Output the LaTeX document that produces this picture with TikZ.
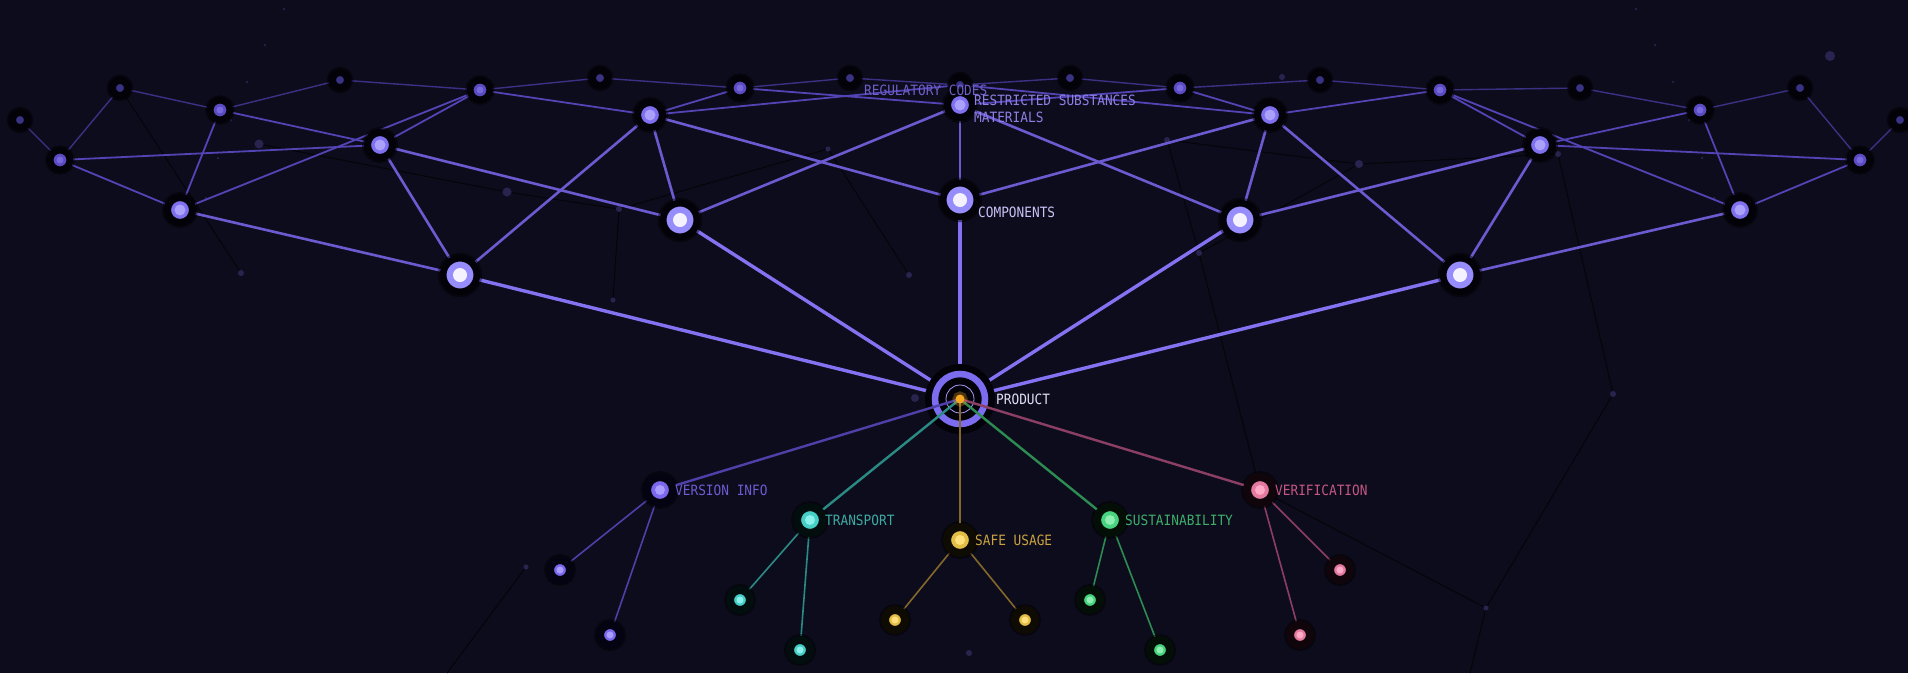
\documentclass[tikz,border=0pt]{standalone}
\usepackage{fontspec}
\newfontfamily\labelfont[FakeStretch=0.9]{DejaVu Sans Mono}

\definecolor{bgcol}{HTML}{0D0C1C}
\definecolor{halocol}{HTML}{030208}
\definecolor{dimcol}{HTML}{050409}
\definecolor{speckcol}{HTML}{29244F}
\definecolor{onedisc}{HTML}{978CFB}
\definecolor{onecore}{HTML}{F5F2FF}
\definecolor{twodisc}{HTML}{7F70F0}
\definecolor{twocore}{HTML}{ABA1FA}
\definecolor{threedisc}{HTML}{5A4CC0}
\definecolor{threecore}{HTML}{7667DC}
\definecolor{fourdisc}{HTML}{3A3283}
\definecolor{prodring}{HTML}{7B6CF0}
\definecolor{prodthin}{HTML}{A99CFF}
\definecolor{prodgold}{HTML}{F5A623}
\definecolor{trunkcol}{HTML}{8373F3}
\definecolor{branchcol}{HTML}{6A5BD0}
\definecolor{twigcol}{HTML}{5244B4}
\definecolor{finecol}{HTML}{3A3185}
% categories: halo / disc / core / link / text
\definecolor{verhalo}{HTML}{040312}
\definecolor{verdisc}{HTML}{7B68EE}
\definecolor{vercore}{HTML}{A99CFF}
\definecolor{verlink}{HTML}{4E40A8}
\definecolor{vertext}{HTML}{6C5CD2}
\definecolor{trnhalo}{HTML}{020E0D}
\definecolor{trndisc}{HTML}{45CFC6}
\definecolor{trncore}{HTML}{8AF0EA}
\definecolor{trnlink}{HTML}{2A8A84}
\definecolor{trntext}{HTML}{3DAAA3}
\definecolor{safhalo}{HTML}{0E0B03}
\definecolor{safdisc}{HTML}{E3BD45}
\definecolor{safcore}{HTML}{FFE07A}
\definecolor{saflink}{HTML}{84672A}
\definecolor{saftext}{HTML}{C9A13F}
\definecolor{sushalo}{HTML}{030E06}
\definecolor{susdisc}{HTML}{47D47E}
\definecolor{suscore}{HTML}{8EEDB0}
\definecolor{suslink}{HTML}{2C8C52}
\definecolor{sustext}{HTML}{3DAE69}
\definecolor{vrfhalo}{HTML}{10050B}
\definecolor{vrfdisc}{HTML}{E47A9F}
\definecolor{vrfcore}{HTML}{FFA9C6}
\definecolor{vrflink}{HTML}{8C3F65}
\definecolor{vrftext}{HTML}{C45784}
\definecolor{prodtext}{HTML}{E2DEF7}
\definecolor{comptext}{HTML}{C9C2F6}
\definecolor{mattext}{HTML}{8C80E2}
\definecolor{regtext}{HTML}{6D5FC6}

\pgfdeclarelayer{back}
\pgfdeclarelayer{links}
\pgfsetlayers{back,links,main}

\tikzset{
	glow/.style={preaction={draw=black, draw opacity=0.45, line width=#1}},
	lone/.style={circle, inner sep=0pt, minimum size=33.5pt, line width=6.5pt, draw=halocol, fill=onedisc, glow=11pt,
		path picture={\fill[onecore] (path picture bounding box.center) circle (7pt);}},
	ltwo/.style={circle, inner sep=0pt, minimum size=25pt, line width=7pt, draw=halocol, fill=twodisc, glow=11pt,
		path picture={\fill[twocore] (path picture bounding box.center) circle (5.5pt);}},
	lthree/.style={circle, inner sep=0pt, minimum size=19.5pt, line width=6.5pt, draw=halocol, fill=threedisc, glow=10pt,
		path picture={\fill[threecore] (path picture bounding box.center) circle (3.5pt);}},
	lfour/.style={circle, inner sep=0pt, minimum size=15.5pt, line width=7.5pt, draw=halocol, fill=fourdisc, glow=11pt},
	prodnode/.style={circle, inner sep=0pt, minimum size=50pt, line width=6.5pt, draw=prodring, fill=halocol,
		preaction={draw=halocol, line width=20pt},
		path picture={\draw[prodthin, line width=0.8pt] (path picture bounding box.center) circle (14pt);}},
	prodcore/.style={circle, inner sep=0pt, minimum size=9pt, fill=prodgold,
		preaction={draw=prodgold, draw opacity=0.3, line width=6pt}},
	catnode/.style n args={3}{circle, inner sep=0pt, minimum size=26pt, line width=8pt, draw=#1, fill=#2, glow=12pt,
		path picture={\fill[#3] (path picture bounding box.center) circle (5pt);}},
	leafnode/.style n args={3}{circle, inner sep=0pt, minimum size=20pt, line width=8pt, draw=#1, fill=#2, glow=12pt,
		path picture={\fill[#3] (path picture bounding box.center) circle (3.5pt);}},
	speck/.style={circle, inner sep=0pt, fill=speckcol, minimum size=#1},
	speck/.default=6pt,
	trunk/.style={trunkcol, line width=3.4pt},
	branch/.style={branchcol, line width=2.6pt},
	twig/.style={twigcol, line width=1.8pt},
	fineline/.style={finecol, line width=1.4pt},
	dimlink/.style={dimcol, line width=1pt},
	catlink/.style={line width=2.4pt},
	leaflink/.style={line width=1.6pt},
	lbl/.style={font=\labelfont\fontsize{14.2}{16}\selectfont, inner sep=0pt, anchor=west}
}

\begin{document}
\begin{tikzpicture}[x=1pt, y=-1pt]
		%%%%% START %%%%%
		\path[use as bounding box] (0,0) rectangle (1908,673);
		
		\begin{pgfonlayer}{back}
		\fill[bgcol] (0,0) rectangle (1908,673);
		
		\node[speck=9pt] (p1) at (259,144) {};
		\node[speck=9pt] (p2) at (507,192) {};
		\node[speck] (p3) at (619,209) {};
		\node[speck=5pt] (p4) at (613,300) {};
		\node[speck] (p5) at (241,273) {};
		\node[speck=5pt] (p6) at (828,149) {};
		\node[speck] (p7) at (909,275) {};
		\node[speck=8pt] (p8) at (915,398) {};
		\node[speck] (p9) at (969,653) {};
		\node[speck=5pt] (p10) at (526,567) {};
		\node[speck=5pt] (p11) at (1486,608) {};
		\node[speck] (p12) at (1613,394) {};
		\node[speck=10pt] (p13) at (1830,56) {};
		\node[speck=8pt] (p14) at (1359,164) {};
		\node[speck] (p15) at (1167,140) {};
		\node[speck] (p16) at (1199,253) {};
		\node[speck] (p17) at (1558,154) {};
		\node[speck] (p18) at (1282,77) {};
		
		\node[speck=2.5pt] (q1) at (284,9) {};
		\node[speck=2.5pt] (q2) at (265,45) {};
		\node[speck=2.5pt] (q3) at (247,82) {};
		\node[speck=2.5pt] (q4) at (231,120) {};
		\node[speck=2.5pt] (q5) at (218,158) {};
		\node[speck=2.5pt] (q6) at (206,198) {};
		\node[speck=2.5pt] (q7) at (1636,9) {};
		\node[speck=2.5pt] (q8) at (1655,45) {};
		\node[speck=2.5pt] (q9) at (1673,82) {};
		\node[speck=2.5pt] (q10) at (1689,120) {};
		\node[speck=2.5pt] (q11) at (1702,158) {};
		\node[speck=2.5pt] (q12) at (1714,198) {};
		
		\coordinate (e1) at (447,673);
		\coordinate (e2) at (1470,673);
		\end{pgfonlayer}
		
		% outer ring
		\node[lfour] (a1) at (20,120) {};
		\node[lfour] (a2) at (120,88) {};
		\node[lfour] (a3) at (340,80) {};
		\node[lfour] (a4) at (600,78) {};
		\node[lfour] (a5) at (850,78) {};
		\node[lfour] (a6) at (1070,78) {};
		\node[lfour] (a7) at (1320,80) {};
		\node[lfour] (a8) at (1580,88) {};
		\node[lfour] (a9) at (1800,88) {};
		\node[lfour] (a10) at (1900,120) {};
		
		\node[lthree] (b1) at (60,160) {};
		\node[lthree] (b2) at (220,110) {};
		\node[lthree] (b3) at (480,90) {};
		\node[lthree] (b4) at (740,88) {};
		\node[lfour] (b5) at (960,85) {};
		\node[lthree] (b6) at (1180,88) {};
		\node[lthree] (b7) at (1440,90) {};
		\node[lthree] (b8) at (1700,110) {};
		\node[lthree] (b9) at (1860,160) {};
		
		\node[ltwo] (c1) at (180,210) {};
		\node[ltwo] (c2) at (380,145) {};
		\node[ltwo] (c3) at (650,115) {};
		\node[ltwo] (c4) at (960,105) {};
		\node[ltwo] (c5) at (1270,115) {};
		\node[ltwo] (c6) at (1540,145) {};
		\node[ltwo] (c7) at (1740,210) {};
		
		\node[lone] (d1) at (460,275) {};
		\node[lone] (d2) at (680,220) {};
		\node[lone] (d3) at (960,200) {};
		\node[lone] (d4) at (1240,220) {};
		\node[lone] (d5) at (1460,275) {};
		
		\node[prodnode] (prod) at (960,399) {};
		
		% categories below
		\node[catnode={verhalo}{verdisc}{vercore}] (ver) at (660,490) {};
		\node[catnode={trnhalo}{trndisc}{trncore}] (trn) at (810,520) {};
		\node[catnode={safhalo}{safdisc}{safcore}] (saf) at (960,540) {};
		\node[catnode={sushalo}{susdisc}{suscore}] (sus) at (1110,520) {};
		\node[catnode={vrfhalo}{vrfdisc}{vrfcore}] (vrf) at (1260,490) {};
		
		\node[leafnode={verhalo}{verdisc}{vercore}] (v1) at (560,570) {};
		\node[leafnode={verhalo}{verdisc}{vercore}] (v2) at (610,635) {};
		\node[leafnode={trnhalo}{trndisc}{trncore}] (t1) at (740,600) {};
		\node[leafnode={trnhalo}{trndisc}{trncore}] (t2) at (800,650) {};
		\node[leafnode={safhalo}{safdisc}{safcore}] (s1) at (895,620) {};
		\node[leafnode={safhalo}{safdisc}{safcore}] (s2) at (1025,620) {};
		\node[leafnode={sushalo}{susdisc}{suscore}] (u1) at (1090,600) {};
		\node[leafnode={sushalo}{susdisc}{suscore}] (u2) at (1160,650) {};
		\node[leafnode={vrfhalo}{vrfdisc}{vrfcore}] (f1) at (1340,570) {};
		\node[leafnode={vrfhalo}{vrfdisc}{vrfcore}] (f2) at (1300,635) {};
		
		\begin{pgfonlayer}{back}
		\draw[dimlink] (a2) -- (p5);
		\draw[dimlink] (p1) -- (p2) -- (p3);
		\draw[dimlink] (p3) -- (p4);
		\draw[dimlink] (p3) -- (p6) -- (p7);
		\draw[dimlink] (p10) -- (e1);
		\draw[dimlink] (vrf) -- (p11);
		\draw[dimlink] (p11) -- (p12) -- (p17);
		\draw[dimlink] (p11) -- (e2);
		\draw[dimlink] (p15) -- (p14) -- (p17);
		\draw[dimlink] (p14) -- (p16);
		\draw[dimlink] (p15) -- (p16) -- (vrf);
		\end{pgfonlayer}
		
		\begin{pgfonlayer}{links}
		\draw[trunk] (d1) -- (prod);
		\draw[trunk] (d2) -- (prod);
		\draw[trunk] (d3) -- (prod);
		\draw[trunk] (d4) -- (prod);
		\draw[trunk] (d5) -- (prod);
		
		\draw[branch] (d1) -- (c1);
		\draw[branch] (d1) -- (c2);
		\draw[branch] (d1) -- (c3);
		\draw[branch] (d2) -- (c2);
		\draw[branch] (d2) -- (c3);
		\draw[branch] (d2) -- (c4);
		\draw[branch] (d3) -- (c3);
		\draw[branch] (d3) -- (c4);
		\draw[branch] (d3) -- (c5);
		\draw[branch] (d4) -- (c4);
		\draw[branch] (d4) -- (c5);
		\draw[branch] (d4) -- (c6);
		\draw[branch] (d5) -- (c5);
		\draw[branch] (d5) -- (c6);
		\draw[branch] (d5) -- (c7);
		
		\draw[twig] (c1) -- (b1);
		\draw[twig] (c1) -- (b2);
		\draw[twig] (c1) -- (b3);
		\draw[twig] (c2) -- (b1);
		\draw[twig] (c2) -- (b2);
		\draw[twig] (c2) -- (b3);
		\draw[twig] (c3) -- (b3);
		\draw[twig] (c3) -- (b4);
		\draw[twig] (c3) -- (b5);
		\draw[twig] (c4) -- (b4);
		\draw[twig] (c4) -- (b5);
		\draw[twig] (c4) -- (b6);
		\draw[twig] (c5) -- (b5);
		\draw[twig] (c5) -- (b6);
		\draw[twig] (c5) -- (b7);
		\draw[twig] (c6) -- (b7);
		\draw[twig] (c6) -- (b8);
		\draw[twig] (c6) -- (b9);
		\draw[twig] (c7) -- (b7);
		\draw[twig] (c7) -- (b8);
		\draw[twig] (c7) -- (b9);
		
		\draw[fineline] (a1) -- (b1) -- (a2) -- (b2) -- (a3) -- (b3) -- (a4) -- (b4) -- (a5) -- (b5);
		\draw[fineline] (b5) -- (a6) -- (b6) -- (a7) -- (b7) -- (a8) -- (b8) -- (a9) -- (b9) -- (a10);
		
		\draw[leaflink, verlink] (ver) -- (v1);
		\draw[leaflink, verlink] (ver) -- (v2);
		\draw[leaflink, trnlink] (trn) -- (t1);
		\draw[leaflink, trnlink] (trn) -- (t2);
		\draw[leaflink, saflink] (saf) -- (s1);
		\draw[leaflink, saflink] (saf) -- (s2);
		\draw[leaflink, suslink] (sus) -- (u1);
		\draw[leaflink, suslink] (sus) -- (u2);
		\draw[leaflink, vrflink] (vrf) -- (f1);
		\draw[leaflink, vrflink] (vrf) -- (f2);
		\end{pgfonlayer}
		
		\draw[catlink, verlink] (prod.center) -- (ver);
		\draw[catlink, trnlink] (prod.center) -- (trn);
		\draw[catlink, saflink] (prod.center) -- (saf);
		\draw[catlink, suslink] (prod.center) -- (sus);
		\draw[catlink, vrflink] (prod.center) -- (vrf);
		\node[prodcore] (core) at (prod.center) {};
		
		% labels
		\node[lbl, text=regtext] (reglbl) at (864,90) {REGULATORY CODES};
		\node[lbl, text=mattext] (sublbl) at (974,100) {RESTRICTED SUBSTANCES};
		\node[lbl, text=mattext] (matlbl) at (974,117) {MATERIALS};
		\node[lbl, text=comptext] (complbl) at (978,212) {COMPONENTS};
		\node[lbl, text=prodtext] (prodlbl) at (996,399) {PRODUCT};
		\node[lbl, text=vertext] (verlbl) at (675,490) {VERSION INFO};
		\node[lbl, text=trntext] (trnlbl) at (825,520) {TRANSPORT};
		\node[lbl, text=saftext] (saflbl) at (975,540) {SAFE USAGE};
		\node[lbl, text=sustext] (suslbl) at (1125,520) {SUSTAINABILITY};
		\node[lbl, text=vrftext] (vrflbl) at (1275,490) {VERIFICATION};
		
		%%%%% END %%%%%
\end{tikzpicture}
\end{document}
